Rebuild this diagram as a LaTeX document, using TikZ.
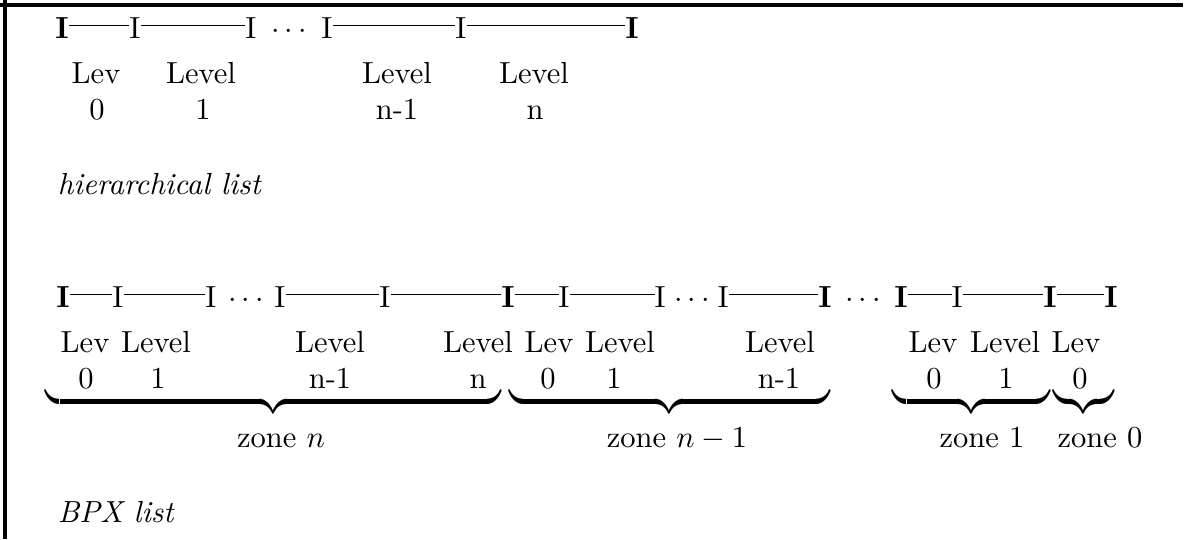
\documentclass[tikz,border=0pt]{standalone}
\usepackage{graphicx}
\newcommand\conn[2]{\draw[seg] ([yshift=4.1pt]#1.base east) -- ([yshift=4.1pt]#2.base west);}
\newcommand\bracew[1]{\scalebox{1}[1.45]{\hbox to #1{\upbracefill}}}
\begin{document}
\begin{tikzpicture}[x=0.32787pt,y=-0.32787pt,
  every node/.style={inner sep=0pt,outer sep=0pt},
  bar/.style={anchor=base},
  lab/.style={anchor=base},
  seg/.style={line width=0.4pt},
  frame/.style={line width=1pt},
  ital/.style={anchor=base west,font=\itshape},
  brc/.style={anchor=north}]
\useasboundingbox (0,0) rectangle (1185,539);
\draw[frame] (0,5) -- (1183,5);
\draw[frame] (5,0) -- (5,539);
% ---------- hierarchical list ----------
\node[bar] (t1) at (62,38) {\textbf{I}};
\node[bar] (t2) at (135,38) {I};
\node[bar] (t3) at (251,38) {I};
\node[bar] (td) at (289,38) {$\cdots$};
\node[bar] (t4) at (327,38) {I};
\node[bar] (t5) at (461,38) {I};
\node[bar] (t6) at (632,38) {\textbf{I}};
\conn{t1}{t2}\conn{t2}{t3}\conn{t4}{t5}\conn{t5}{t6}
\node[lab] (tl1) at (96,83) {Lev};
\node[lab] (tl2) at (201,83) {Level};
\node[lab] (tl3) at (397,83) {Level};
\node[lab] (tl4) at (534,83) {Level};
\node[lab] (tn1) at (97,119) {0};
\node[lab] (tn2) at (203,119) {1};
\node[lab] (tn3) at (397,119) {n-1};
\node[lab] (tn4) at (535,119) {n};
\node[ital] (hl) at (58,194) {hierarchical list};
% ---------- BPX list ----------
\node[bar] (b1) at (63,307) {\textbf{I}};
\node[bar] (b2) at (118,307) {I};
\node[bar] (b3) at (211,307) {I};
\node[bar] (bd1) at (246,307) {$\cdots$};
\node[bar] (b4) at (280,307) {I};
\node[bar] (b5) at (385,307) {I};
\node[bar] (b6) at (508,307) {\textbf{I}};
\node[bar] (b7) at (564,307) {I};
\node[bar] (b8) at (660,307) {I};
\node[bar] (bd2) at (692,307) {$\cdots$};
\node[bar] (b9) at (723,307) {I};
\node[bar] (b10) at (825,307) {\textbf{I}};
\node[bar] (bd3) at (863,307) {$\cdots$};
\node[bar] (b11) at (901,307) {\textbf{I}};
\node[bar] (b12) at (957,307) {I};
\node[bar] (b13) at (1050,307) {\textbf{I}};
\node[bar] (b14) at (1111,307) {\textbf{I}};
\conn{b1}{b2}\conn{b2}{b3}\conn{b4}{b5}\conn{b5}{b6}\conn{b6}{b7}\conn{b7}{b8}
\conn{b9}{b10}\conn{b11}{b12}\conn{b12}{b13}\conn{b13}{b14}
\node[lab] (bl1) at (85,352) {Lev};
\node[lab] (bl2) at (156,352) {Level};
\node[lab] (bl3) at (330,352) {Level};
\node[lab] (bl4) at (478,352) {Level};
\node[lab] (bl5) at (549,352) {Lev};
\node[lab] (bl6) at (620,352) {Level};
\node[lab] (bl7) at (780,352) {Level};
\node[lab] (bl8) at (933,352) {Lev};
\node[lab] (bl9) at (1005,352) {Level};
\node[lab] (bl10) at (1076,352) {Lev};
\node[lab] (bn1) at (86,388) {0};
\node[lab] (bn2) at (158,388) {1};
\node[lab] (bn3) at (330,388) {n-1};
\node[lab] (bn4) at (478,388) {n};
\node[lab] (bn5) at (548,388) {0};
\node[lab] (bn6) at (614,388) {1};
\node[lab] (bn7) at (779,388) {n-1};
\node[lab] (bn8) at (934,388) {0};
\node[lab] (bn9) at (1006,388) {1};
\node[lab] (bn10) at (1080,388) {0};
\node[brc] (z1) at (273.5,399) {\bracew{149.2pt}};
\node[brc] (z2) at (669.5,399) {\bracew{105.2pt}};
\node[brc] (z3) at (971.5,399) {\bracew{51.5pt}};
\node[brc] (z4) at (1083.5,399) {\bracew{20pt}};
\node[lab] (zl1) at (281,447) {zone $n$};
\node[lab] (zl2) at (677,447) {zone $n-1$};
\node[lab] (zl3) at (982,447) {zone 1};
\node[lab] (zl4) at (1100,447) {zone 0};
\node[ital] (bx) at (58,522) {BPX list};
\end{tikzpicture}
\end{document}
